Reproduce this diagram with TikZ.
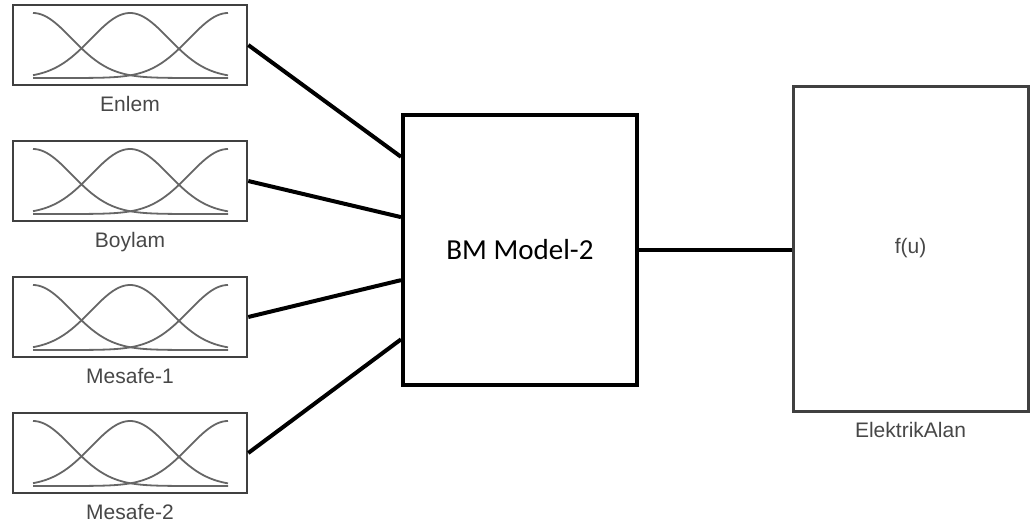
\documentclass[tikz,border=0pt]{standalone}
\usepackage{fontspec}
\setmainfont{Liberation Sans}
\newfontfamily\bmfont{Carlito}
\usetikzlibrary{positioning}
\usetikzlibrary{calc}

\begin{document}
\begin{tikzpicture}[x=1pt, y=-1pt,
        mfbox/.style={draw=black!75, line width=2.5pt, minimum width=234pt, minimum height=80pt, inner sep=0pt},
        lbl/.style={text=black!72, font=\fontsize{21}{24}\selectfont, inner sep=0pt},
        wire/.style={line width=4pt},
        mf/.style={black!60, line width=1.8pt}]
        \useasboundingbox (0,0) rectangle (1033,530);
        \node[mfbox] (enlem) at (130,45){};
        \node[mfbox] (boylam) at (130,181){};
        \node[mfbox] (mesafea) at (130,317){};
        \node[mfbox] (mesafeb) at (130,453){};
        \node[lbl, below=10pt of enlem] (enlemt){Enlem};
        \node[lbl, below=10pt of boylam] (boylamt){Boylam};
        \node[lbl, below=10pt of mesafea] (mesafeat){Mesafe-1};
        \node[lbl, below=10pt of mesafeb] (mesafebt){Mesafe-2};
        \foreach \b in {enlem,boylam,mesafea,mesafeb}{
            \begin{scope}[shift={(\b.center)}]
                \foreach \c in {-97,0,98}
                    \draw[mf] plot[domain=-97:98, samples=70, smooth] (\x,{33-65*exp(-(((\x-(\c))/10)^2)/30)});
            \end{scope}
        }
        \node[draw, line width=4pt, inner sep=0pt, minimum width=234pt, minimum height=270pt,
            font=\bmfont\fontsize{29}{34}\selectfont] (bm) at (520,250){BM Model-2};
        \node[draw=black!75, line width=3pt, minimum width=235pt, minimum height=325pt, lbl] (fu) at (910.5,248.5){f(u)};
        \node[lbl, below=10pt of fu] (fut){ElektrikAlan};
        \draw[wire] (enlem.east) -- ($(bm.north west)!0.16!(bm.south west)$);
        \draw[wire] (boylam.east) -- ($(bm.north west)!0.38!(bm.south west)$);
        \draw[wire] (mesafea.east) -- ($(bm.north west)!0.61!(bm.south west)$);
        \draw[wire] (mesafeb.east) -- ($(bm.north west)!0.826!(bm.south west)$);
        \draw[wire] (bm.east) -- (bm.east -| fu.west);
    \end{tikzpicture}
\end{document}
